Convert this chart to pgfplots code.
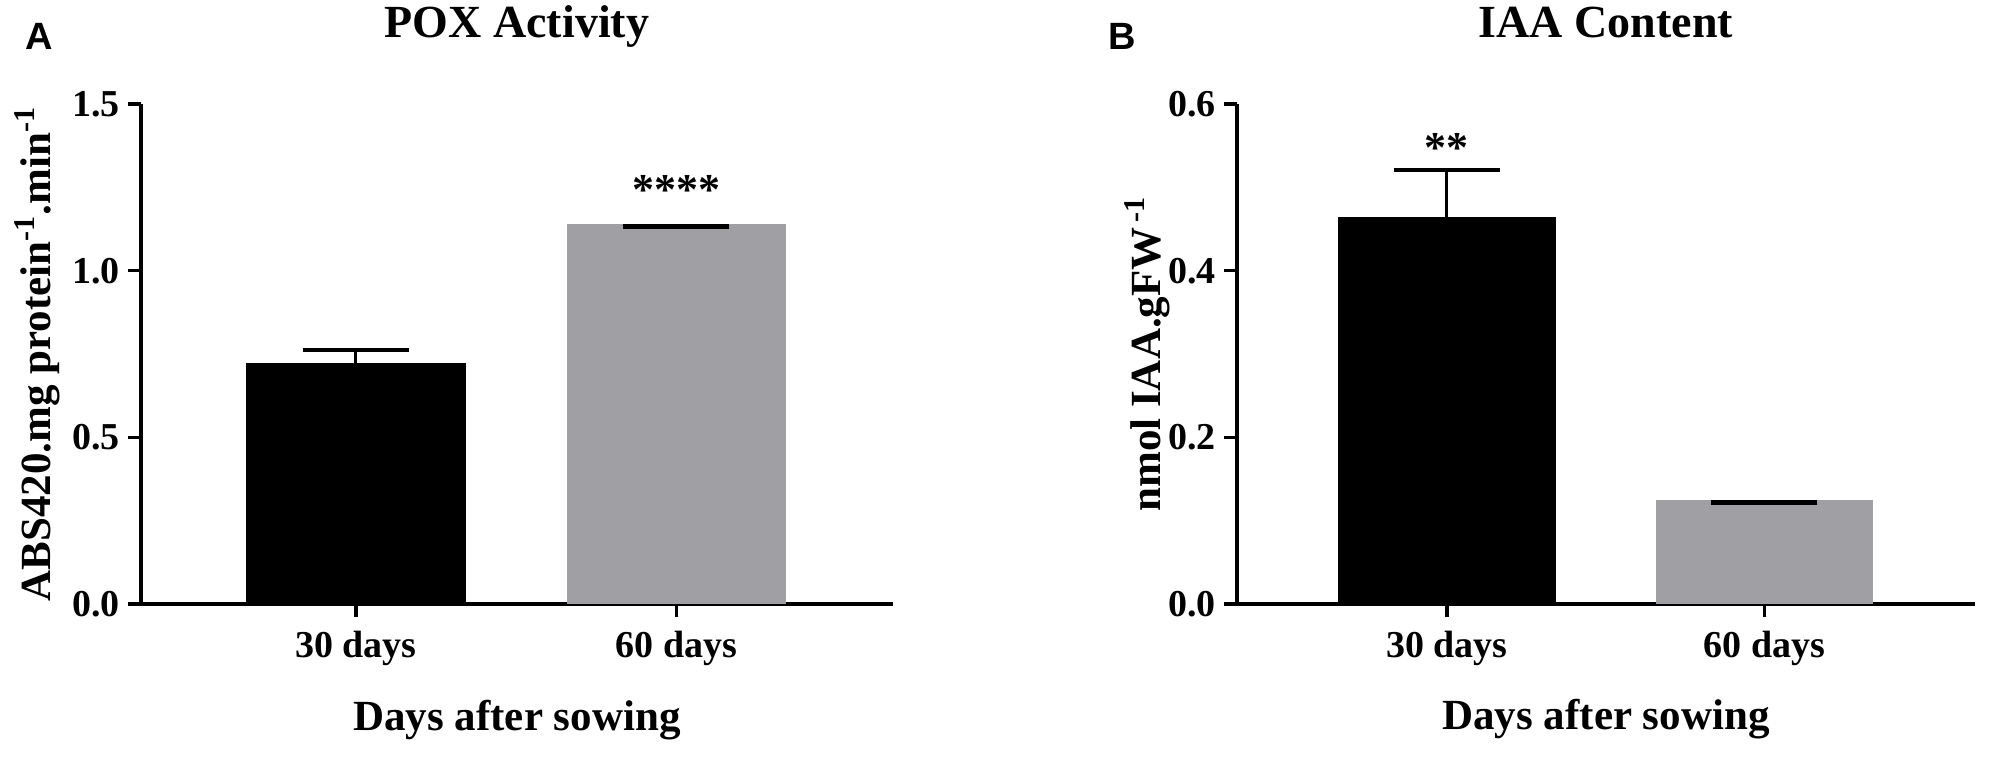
\documentclass[border=0pt]{standalone}
\usepackage{fontspec}
\setmainfont{Liberation Serif}
\newfontfamily\panelfont{Liberation Sans}
\usepackage{pgfplots}
\pgfplotsset{compat=1.18}
\definecolor{bargrey}{RGB}{160,160,164}
\newcommand{\tickfont}{\fontsize{19}{19}\selectfont\bfseries}
\newcommand{\labfont}{\fontsize{21.5}{21.5}\selectfont\bfseries}
\newcommand{\titfont}{\fontsize{23}{23}\selectfont\bfseries}
\newcommand{\starfont}{\fontsize{22}{22}\selectfont\bfseries}
\pgfplotsset{
  panel/.style={
    scale only axis, height=250pt,
    axis x line*=bottom, axis y line*=left,
    axis line style={line width=1.7pt, black},
    tick align=outside, major tick length=6.5pt,
    tick style={line width=1.7pt, black},
    xtick={0,1}, xticklabels={30 days,60 days},
    ymin=0,
    tick label style={font=\tickfont},
    yticklabel style={/pgf/number format/fixed, /pgf/number format/fixed zerofill,
      /pgf/number format/precision=1, /pgf/number format/assume math mode=true},
    yticklabel style={anchor=east, inner sep=0pt, xshift=-4pt},
    xticklabel style={anchor=base, inner sep=0pt, yshift=-20pt},
    every axis title/.style={font=\titfont, anchor=base, at={(axis description cs:0.5,1.134)}},
    xlabel style={font=\labfont, anchor=base, at={(axis description cs:0.5,-0.252)}},
    ylabel style={font=\labfont, anchor=base},
    clip=false,
  },
  errbar/.style={error bars/.cd, y dir=#1, y explicit,
      error bar style={line width=1.5pt, draw=black},
      error mark options={line width=2.2pt, mark size=26.5pt, draw=black, rotate=90}},
  errbar/.default=plus,
}
\begin{document}
\begin{tikzpicture}
\path[use as bounding box] (0,0) rectangle (997pt,378pt);
% Panel A
\begin{axis}[panel, at={(70.5pt,76pt)}, anchor=south west, width=376pt,
  xmin=-0.671, xmax=1.676, ymax=1.5, ytick={0,0.5,1.0,1.5},
  title={POX Activity},
  xlabel={Days after sowing},
  ylabel={ABS420.mg protein\textsuperscript{-1}.min\textsuperscript{-1}},
  ylabel style={at={(axis description cs:-0.121,0.5)}}]
\addplot[ybar, bar width=0.686, bar shift=0pt, fill=black, draw=none, errbar]
  coordinates {(0,0.724) +- (0,0.038)};
\addplot[ybar, bar width=0.686, bar shift=0pt, fill=bargrey, draw=none, errbar=minus]
  coordinates {(1,1.140) +- (0,0.008)};
\node[font=\starfont, anchor=base] at (axis cs:1,1.200) {****};
\end{axis}
% Panel B
\begin{axis}[panel, at={(618.5pt,76pt)}, anchor=south west, width=369pt,
  xmin=-0.661, xmax=1.663, ymax=0.6, ytick={0,0.2,0.4,0.6},
  title={IAA Content},
  xlabel={Days after sowing},
  ylabel={nmol IAA.gFW\textsuperscript{\,-1}},
  ylabel style={at={(axis description cs:-0.1043,0.5)}}]
\addplot[ybar, bar width=0.686, bar shift=0pt, fill=black, draw=none, errbar]
  coordinates {(0,0.465) +- (0,0.056)};
\addplot[ybar, bar width=0.686, bar shift=0pt, fill=bargrey, draw=none, errbar=minus]
  coordinates {(1,0.125) +- (0,0.003)};
\node[font=\starfont, anchor=base] at (axis cs:0,0.530) {**};
\end{axis}
\node[anchor=base west, inner sep=0pt, font=\panelfont\fontsize{19}{19}\selectfont\bfseries] at (12.5pt,353pt) {A};
\node[anchor=base west, inner sep=0pt, font=\panelfont\fontsize{19}{19}\selectfont\bfseries] at (554pt,353pt) {B};
\end{tikzpicture}
\end{document}
